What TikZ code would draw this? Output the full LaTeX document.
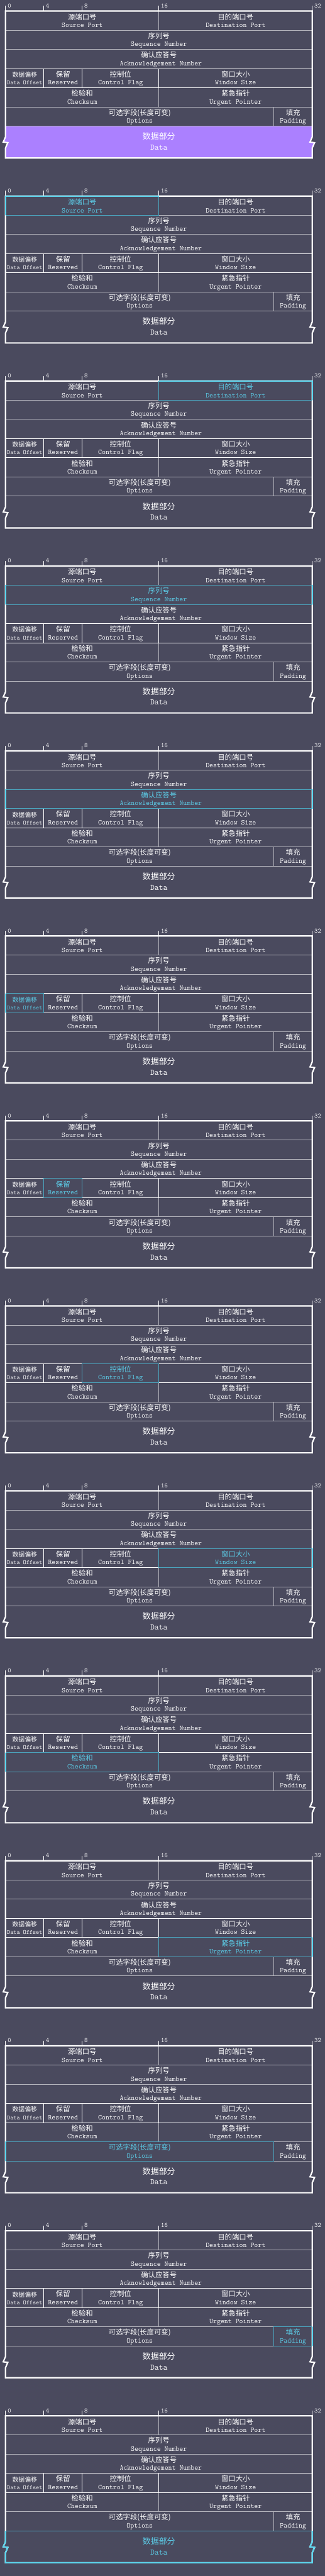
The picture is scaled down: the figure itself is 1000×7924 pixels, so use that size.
\documentclass[tikz,border=0pt]{standalone}
\usepackage{fontspec}
\newfontfamily\cjk{Noto Sans CJK SC}
\definecolor{bg}{HTML}{4A4A5E}
\definecolor{gridgray}{HTML}{B4B4BC}
\definecolor{purp}{HTML}{AB80FF}
\definecolor{cyanthick}{HTML}{5CD6EE}
\definecolor{cyanthin}{HTML}{4BA5BE}
\definecolor{hltext}{HTML}{5CCDE8}
\tikzset{
  zh/.style={font=\cjk\fontsize{22}{22}\selectfont, inner sep=0pt, anchor=base},
  zhs/.style={font=\cjk\fontsize{19}{19}\selectfont},
  zhl/.style={font=\cjk\fontsize{25}{25}\selectfont},
  en/.style={font=\ttfamily\fontsize{22.3}{22}\selectfont, inner sep=0pt, anchor=base},
  ens/.style={font=\ttfamily\fontsize{19.2}{19}\selectfont},
  enl/.style={font=\ttfamily\fontsize{25.7}{25}\selectfont},
  f1/.style={text=white}, f2/.style={text=white}, f3/.style={text=white},
  f4/.style={text=white}, f5/.style={text=white}, f6/.style={text=white},
  f7/.style={text=white}, f8/.style={text=white}, f9/.style={text=white},
  f10/.style={text=white}, f11/.style={text=white}, f12/.style={text=white},
  f13/.style={text=white}, f0/.style={},
  frameline/.style={draw=white, line width=4.2pt, line join=miter},
  gridline/.style={draw=gridgray, line width=1.5pt},
  gridwhite/.style={draw=white, line width=1.5pt},
  hlthin/.style={draw=cyanthin, line width=1.6pt},
  hlthick/.style={draw=cyanthick, line width=4.2pt, line join=miter},
  tickline/.style={draw=white, line width=1.5pt},
  ticklabel/.style={font=\ttfamily\fontsize{20}{20}\selectfont, text=white, inner sep=0pt, anchor=base west},
  framepath/.style={insert path={(17,0) -- (961,0) -- (961,387) -- (954,403) -- (968,405) -- (961,421) -- (961,452) -- (17,452) -- (17,421) -- (24,405) -- (10,403) -- (17,387) -- cycle}},
  datapoly/.style={insert path={(17,354) -- (961,354) -- (961,387) -- (954,403) -- (968,405) -- (961,421) -- (961,452) -- (17,452) -- (17,421) -- (24,405) -- (10,403) -- (17,387) -- cycle}},
}
\newcommand\fieldtext[6]{%
  \node[zh,#2] (#1z) at (#3,#4+25.6) {#5};
  \node[en,#2] (#1e) at (#3,#4+49.5) {#6};}
\newcommand\tcppanel[2]{%
\begin{scope}[shift={(0,34+569*#1)}]
  \tikzset{f#2/.style={text=hltext}}
  \ifnum#2=0 \fill[purp, datapoly];\fi
  \draw[gridline] (17,59) -- (961,59) (17,118) -- (961,118) (17,295) -- (961,295)
     (17,354) -- (961,354) (489,0) -- (489,59) (489,236) -- (489,295) (843,295) -- (843,354);
  \draw[gridwhite] (17,177) -- (961,177) (17,236) -- (961,236) (135,177) -- (135,236)
     (253,177) -- (253,236) (489,177) -- (489,236);
  \draw[frameline, framepath];
  \foreach \b in {0,4,8,16,32}{
    \draw[tickline] ({17+29.5*\b},-16) -- ({17+29.5*\b},0);
    \node[ticklabel] (p#1tick\b) at ({23.5+29.5*\b},-10) {\b};
  }
  \ifcase#2
  \or \draw[hlthin] (17,59) -- (489,59) -- (489,0); \draw[hlthick] (17,59) -- (17,0) -- (489,0);
  \or \draw[hlthin] (489,0) -- (489,59) -- (961,59); \draw[hlthick] (489,0) -- (961,0) -- (961,59);
  \or \draw[hlthin] (17,59) -- (961,59) (17,118) -- (961,118); \draw[hlthick] (17,59) -- (17,118) (961,59) -- (961,118);
  \or \draw[hlthin] (17,118) -- (961,118) (17,177) -- (961,177); \draw[hlthick] (17,118) -- (17,177) (961,118) -- (961,177);
  \or \draw[hlthin] (17,177) -- (135,177) -- (135,236) -- (17,236); \draw[hlthick] (17,177) -- (17,236);
  \or \draw[hlthin] (135,177) rectangle (253,236);
  \or \draw[hlthin] (253,177) rectangle (489,236);
  \or \draw[hlthin] (961,177) -- (489,177) -- (489,236) -- (961,236); \draw[hlthick] (961,177) -- (961,236);
  \or \draw[hlthin] (17,236) -- (489,236) -- (489,295) -- (17,295); \draw[hlthick] (17,236) -- (17,295);
  \or \draw[hlthin] (961,236) -- (489,236) -- (489,295) -- (961,295); \draw[hlthick] (961,236) -- (961,295);
  \or \draw[hlthin] (17,295) -- (843,295) -- (843,354) -- (17,354); \draw[hlthick] (17,295) -- (17,354);
  \or \draw[hlthin] (961,295) -- (843,295) -- (843,354) -- (961,354); \draw[hlthick] (961,295) -- (961,354);
  \or \draw[hlthin] (17,354) -- (961,354);
      \draw[hlthick] (17,354) -- (17,387) -- (10,403) -- (24,405) -- (17,421) -- (17,452) -- (961,452)
        -- (961,421) -- (968,405) -- (954,403) -- (961,387) -- (961,354);
  \fi
  \fieldtext{p#1src}{f1}{253}{1.5}{源端口号}{Source Port}
  \fieldtext{p#1dst}{f2}{725}{1.5}{目的端口号}{Destination Port}
  \fieldtext{p#1seq}{f3}{489}{59}{序列号}{Sequence Number}
  \node[zh,f4] (p#1ackz) at (489,118+25.6) {确认应答号};
  \node[en,f4] (p#1acke) at (495,118+49.5) {Acknowledgement Number};
  \node[zh,zhs,f5] (p#1doffz) at (76,177+26) {数据偏移};
  \node[en,ens,f5] (p#1doffe) at (76,177+49.5) {Data Offset};
  \fieldtext{p#1res}{f6}{194}{177}{保留}{Reserved}
  \fieldtext{p#1ctl}{f7}{371}{177}{控制位}{Control Flag}
  \fieldtext{p#1win}{f8}{725}{177}{窗口大小}{Window Size}
  \fieldtext{p#1chk}{f9}{253}{236}{检验和}{Checksum}
  \fieldtext{p#1urg}{f10}{725}{236}{紧急指针}{Urgent Pointer}
  \fieldtext{p#1opt}{f11}{430}{295}{可选字段(长度可变)}{Options}
  \fieldtext{p#1pad}{f12}{902}{295}{填充}{Padding}
  \node[zh,zhl,f13] (p#1dataz) at (489,354+41) {数据部分};
  \node[en,enl,f13] (p#1datae) at (489,354+73.5) {Data};
\end{scope}}
\begin{document}
\begin{tikzpicture}[x=1pt,y=-1pt]
  \fill[bg] (0,0) rectangle (1000,7924);
  \useasboundingbox (0,0) rectangle (1000,7924);
  \foreach \k in {0,...,13}{\tcppanel{\k}{\k}}
\end{tikzpicture}
\end{document}
